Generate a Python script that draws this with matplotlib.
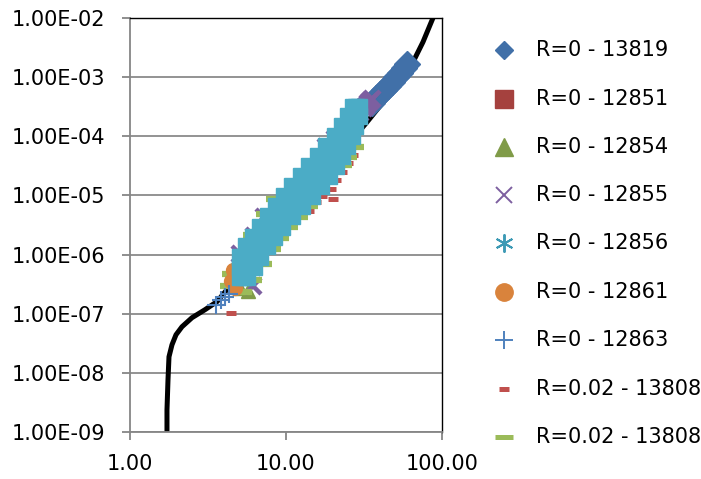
import matplotlib
matplotlib.use('Agg')
import matplotlib.pyplot as plt
from matplotlib.lines import Line2D

plt.rcParams['font.family'] = ['DejaVu Sans']

# ---------------- data ----------------
x_ticks = [1, 10, 100]
x_tick_labels = ['1.00', '10.00', '100.00']
y_ticks = [1e-9, 1e-8, 1e-7, 1e-6, 1e-5, 1e-4, 1e-3, 1e-2]
y_tick_labels = ['1.00E-09', '1.00E-08', '1.00E-07', '1.00E-06',
                 '1.00E-05', '1.00E-04', '1.00E-03', '1.00E-02']

# fitted curve
curve_x = [1.726, 1.726, 1.752, 1.778, 1.858, 1.972, 2.154, 2.497, 3.026, 3.612,
           5.88, 12.29, 22.19, 33.0, 41.9, 53.8, 65.2, 75.5, 87.5, 91.5]
curve_y = [1.05e-9, 2.36e-9, 7.6e-9, 1.87e-8, 2.98e-8, 4.41e-8, 6.02e-8, 8.56e-8, 1.17e-7, 1.60e-7,
           7.61e-7, 7.61e-6, 4.95e-5, 1.73e-4, 3.77e-4, 7.6e-4, 1.80e-3, 3.92e-3, 1.0e-2, 1.66e-2]

# R=0 - 13819
s13819_x = [35.6, 37.8, 40.0, 42.4, 45.0, 47.8, 50.7, 53.8, 57.1, 59.5]
s13819_y = [3.63e-4, 4.41e-4, 5.15e-4, 6.03e-4, 7.05e-4, 8.23e-4, 1.0e-3, 1.17e-3, 1.42e-3, 1.70e-3]

# R=0 - 12851
s12851_x = [12.29, 9.15, 6.81, 16.52, 22.19, 25.7]
s12851_y = [1.04e-5, 3.23e-6, 1.0e-6, 2.76e-5, 7.31e-5, 1.31e-4]

# R=0 - 12854
s12854_x = [5.07, 5.71, 4.78, 10.61, 19.14, 27.7, 7.90]
s12854_y = [2.76e-7, 2.45e-7, 4.08e-7, 7.04e-6, 4.07e-5, 1.60e-4, 2.65e-6]

# R=0 - 12855
s12855_x = [35.6, 34.6, 33.6, 32.5, 31.6, 29.8, 20.61, 16.52, 13.23, 10.61, 8.51, 7.01, 5.88,
            6.15, 18.05, 7.22, 6.24, 5.07]
s12855_y = [4.24e-4, 3.95e-4, 3.63e-4, 3.30e-4, 2.98e-4, 2.46e-4, 8.89e-5, 4.07e-5, 1.87e-5,
            8.55e-6, 3.92e-6, 1.79e-6, 8.22e-7, 2.98e-7, 6.51e-5, 4.24e-6, 2.09e-6, 1.04e-6]

# R=0 - 12856 (dense band, three readings per level)
s12856_y = [4.24e-7, 6.26e-7, 9.24e-7, 1.37e-6, 2.01e-6, 2.98e-6, 4.41e-6, 6.51e-6, 9.61e-6,
            1.42e-5, 2.10e-5, 3.10e-5, 4.58e-5, 6.77e-5, 1.00e-4, 1.47e-4, 2.18e-4, 3.10e-4]
s12856_x_low = [5.07, 5.07, 5.07, 5.54, 6.15, 6.81, 7.66, 8.63, 9.71,
                10.93, 12.47, 14.04, 16.04, 18.05, 20.61, 22.86, 24.97, 26.86]
s12856_x_mid = [5.30, 5.54, 5.79, 6.42, 7.17, 8.02, 9.15, 10.45, 11.94,
                13.53, 15.34, 17.14, 19.14, 21.07, 23.37, 25.34, 27.06, 28.08]
s12856_x_high = [5.62, 6.24, 6.81, 7.55, 8.38, 9.42, 10.93, 12.66, 14.68,
                 16.77, 18.87, 20.91, 22.86, 24.60, 26.47, 27.87, 29.35, 29.35]

# R=0 - 12861
s12861_x = [4.57, 4.44, 4.71]
s12861_y = [5.57e-7, 3.63e-7, 2.75e-7]

# R=0 - 12863
s12863_x = [3.56, 3.83, 4.06, 4.31]
s12863_y = [1.42e-7, 1.73e-7, 1.94e-7, 2.18e-7]

# R=0.02 - 13808 (red)
s13808a_x = [17.0, 19.4, 20.91, 22.86, 24.97, 26.86, 20.0, 4.44, 14.04, 15.57]
s13808a_y = [9.61e-6, 1.26e-5, 1.80e-5, 2.46e-5, 3.48e-5, 4.76e-5, 8.55e-6, 1.04e-7, 5.36e-6, 7.61e-6]

# R=0.02 - 13808 (green)
s13808b_x = [8.14, 7.01, 5.79, 4.25, 4.12, 28.9, 26.1, 24.2, 14.68, 12.66, 10.93, 9.56, 8.51,
             7.44, 6.42, 5.54]
s13808b_y = [8.55e-6, 4.77e-6, 2.18e-6, 4.76e-7, 2.98e-7, 6.51e-5, 4.40e-5, 3.23e-5, 6.51e-6,
             4.24e-6, 2.87e-6, 1.94e-6, 1.22e-6, 7.03e-7, 3.77e-7, 2.36e-7]

labels = ['R=0 - 13819', 'R=0 - 12851', 'R=0 - 12854', 'R=0 - 12855', 'R=0 - 12856',
          'R=0 - 12861', 'R=0 - 12863', 'R=0.02 - 13808', 'R=0.02 - 13808']

# ---------------- style ----------------
c_blue = '#4170A8'
c_red = '#AA4643'
c_olive = '#809B48'
c_purple = '#7D5FA0'
c_cyan = '#4BACC6'
c_cyan_leg = '#3D9AB5'
c_orange = '#D9833C'
c_plus = '#4F81BD'
c_rdash = '#C0504D'
c_gdash = '#9BBB59'

W, H = 701, 479
fig = plt.figure(figsize=(W / 100, H / 100), dpi=100)
ax = fig.add_axes([130 / W, 1 - 432 / H, (442 - 130) / W, (432 - 18) / H])
ax.set_xscale('log')
ax.set_yscale('log')
ax.set_xlim(1, 100)
ax.set_ylim(1e-9, 1e-2)

ax.plot(curve_x, curve_y, color='black', lw=3.6, solid_capstyle='round',
        solid_joinstyle='round', zorder=2)

ax.plot(s13819_x, s13819_y, ls='none', marker='D', ms=13, color=c_blue, mec=c_blue, zorder=3)
ax.plot(s12851_x, s12851_y, ls='none', marker='s', ms=9, color=c_red, mec=c_red, zorder=3.1)
ax.plot(s12854_x, s12854_y, ls='none', marker='^', ms=10, color=c_olive, mec=c_olive, zorder=3.2)
ax.plot(s12855_x, s12855_y, ls='none', marker='x', ms=11, mew=3.2, color=c_purple, zorder=3.3)
ax.plot(s13808a_x, s13808a_y, ls='none', marker='_', ms=7.5, mew=3.6, color=c_rdash, zorder=3.4)
ax.plot(s13808b_x, s13808b_y, ls='none', marker='_', ms=8, mew=4.5, color=c_gdash, zorder=3.5)
ax.plot(s12861_x, s12861_y, ls='none', marker='o', ms=10, color=c_orange, mec=c_orange, zorder=3.6)
for xs in (s12856_x_low, s12856_x_mid, s12856_x_high):
    ax.plot(xs, s12856_y, ls='none', marker='s', ms=11.5, color=c_cyan, mec=c_cyan, zorder=3.7)
ax.plot(s12863_x, s12863_y, ls='none', marker='+', ms=12.5, mew=1.5, color=c_plus, zorder=3.8)

# axes styling
ax.set_xticks(x_ticks)
ax.set_xticklabels(x_tick_labels)
ax.set_yticks(y_ticks)
ax.set_yticklabels(y_tick_labels)
ax.minorticks_off()
ax.yaxis.grid(True, color='#8A8A8A', lw=1.3)
ax.set_axisbelow(True)
for s in ('left', 'bottom'):
    ax.spines[s].set_color('#868686')
    ax.spines[s].set_linewidth(1.3)
for s in ('top', 'right'):
    ax.spines[s].set_color('black')
    ax.spines[s].set_linewidth(1.0)
ax.tick_params(axis='both', direction='out', length=6, width=1.3, color='#868686',
               labelsize=15, labelcolor='black')
ax.tick_params(axis='y', pad=12)
ax.tick_params(axis='x', pad=10)

# legend (manual placement)
handles = [
    dict(marker='D', ms=9.2, color=c_blue),
    dict(marker='s', ms=12.5, color='#A5413E'),
    dict(marker='^', ms=12.5, color=c_olive),
    dict(marker='x', ms=12, mew=1.4, color=c_purple),
    dict(marker=(6, 2, 0), ms=13, mew=1.4, color=c_cyan_leg),
    dict(marker='o', ms=12.5, color=c_orange),
    dict(marker='+', ms=13, mew=1.4, color=c_plus),
    dict(marker='_', ms=6.5, mew=3.6, color=c_rdash),
    dict(marker='_', ms=12.5, mew=3.6, color=c_gdash),
]
entry_y = [50, 99, 147, 195, 243, 292, 340, 389, 437]
for h, lab, yy in zip(handles, labels, entry_y):
    fig.add_artist(Line2D([504 / W], [1 - yy / H], ls='none', transform=fig.transFigure, **h))
    fig.text(536 / W, 1 - yy / H, lab, fontsize=15, va='center', ha='left')

fig.savefig('out.png', dpi=100, facecolor='white')
